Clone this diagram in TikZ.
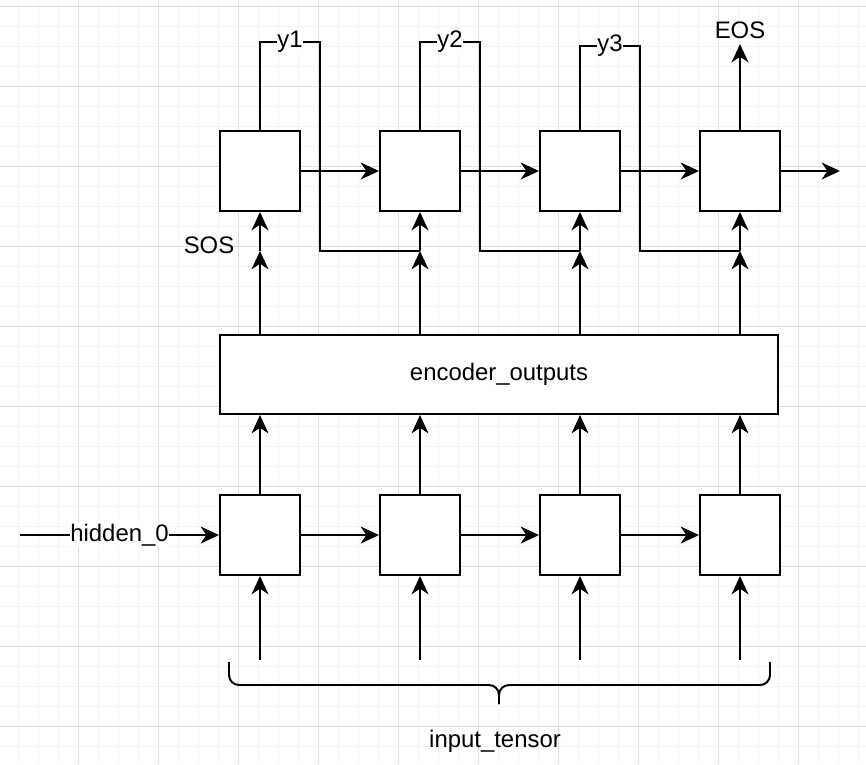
\documentclass[tikz,border=0pt]{standalone}
\usepackage{fontspec}
\setmainfont{Liberation Sans}
\usetikzlibrary{arrows.meta}

\tikzset{
  cell/.style={draw, fill=white, minimum size=2cm, inner sep=0pt},
  tag/.style={fill=white, inner sep=0.5pt},
  minorline/.style={black!4, line width=0.7pt},
  majorline/.style={black!13, line width=0.7pt}
}

\begin{document}
\begin{tikzpicture}[x=0.5cm, y=-0.5cm,
                    >={Stealth[length=13pt,width=12pt,inset=4pt]},
                    line width=1.4pt, font=\fontsize{17}{20}\selectfont
                   ]
    \useasboundingbox (0,0) rectangle (43.3,38.2);

    % background grid
    \foreach \k in {0,...,42}
        \draw [minorline] (0.9+\k,0) -- (0.9+\k,38.2);
    \foreach \k in {0,...,37}
        \draw [minorline] (0,0.335+\k) -- (43.3,0.335+\k);
    \foreach \k in {0,...,9}{
        \draw [majorline] (3.9+4*\k,0) -- (3.9+4*\k,38.2);
        \draw [majorline] (0,0.335+4*\k) -- (43.3,0.335+4*\k);
    }

    \foreach \i [evaluate={\x=13+8*(\i-1);}] in {1,...,4}{
        \node [cell] (dec\i) at (\x,8.55) {};
        \node [cell] (enc\i) at (\x,26.75) {};
        \coordinate (in\i) at (\x,33);
        \coordinate (j\i) at (\x,12.55);
    }
    \node [cell, minimum width=13.95cm, minimum height=1.975cm]
        (encout) at (24.95,18.73) {encoder\_outputs};

    \node (sos) at (10.45,12.25) {SOS};
    \node (eos) at (37,1.5) {EOS};
    \node (inp) at (24.75,37.05) {input\_tensor};
    \coordinate (h0) at (1,26.75);
    \coordinate (out) at (42,8.55);

    \foreach \i in {1,...,4}{
        \draw [->] (in\i) -- (enc\i);
        \draw [->] (enc\i) -- (enc\i |- encout.south);
        \draw [->] (encout.north -| dec\i) -- (j\i);
        \draw [->] (j\i) -- (dec\i);
    }
    \foreach \i [evaluate={\k=int(\i+1);}] in {1,2,3}{
        \draw [->] (dec\i) -- (dec\k);
        \draw [->] (enc\i) -- (enc\k);
    }
    \draw [->] (dec4) -- (out);
    \draw [->] (dec4) -- (eos);
    \draw [->] (h0) -- node [tag] {hidden\_0} (enc1);

    % outputs fed back to the next cell
    \foreach \i/\h [evaluate={\k=int(\i+1);}] in {1/4.4,2/4.4,3/4.2}{
        \draw (dec\i.north) -- ++(0,-\h) -- node [tag] {y\i} ++(3,0) |- (j\k);
    }

    % brace under the inputs
    \draw [rounded corners=0.25cm] (11.45,33.1) -- (11.45,34.25) -- (24.95,34.25) -- (24.95,35.2);
    \draw [rounded corners=0.25cm] (38.5,33.1) -- (38.5,34.25) -- (24.95,34.25) -- (24.95,35.2);

\end{tikzpicture}
\end{document}
